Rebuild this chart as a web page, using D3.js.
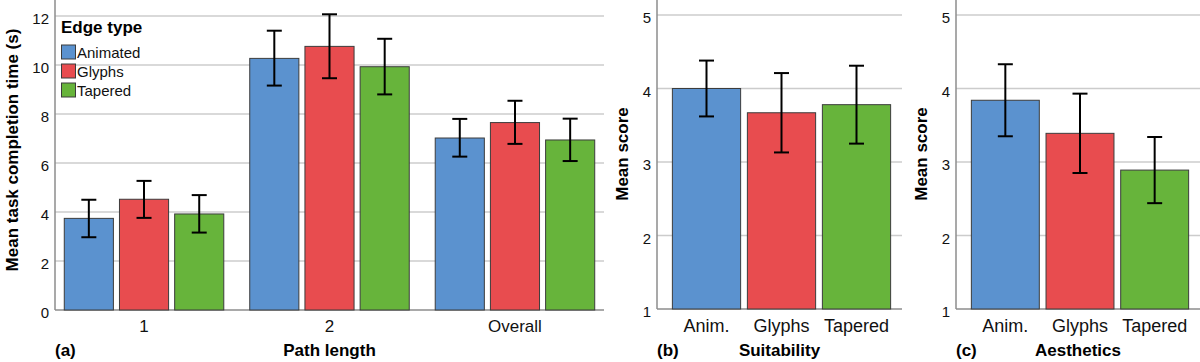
<!DOCTYPE html>
<html>
<head>
<meta charset="utf-8">
<script src="https://cdn.jsdelivr.net/npm/d3@7"></script>
<style>
  body { margin: 0; background: #fff; }
  svg { display: block; font-family: "Liberation Sans", Arial, sans-serif; }
</style>
</head>
<body>
<svg id="chart" width="1200" height="362"></svg>
<script>
// edge types (series) and colours
var edgeTypes = ["Animated", "Glyphs", "Tapered"];
var colors = ["#5b92cf", "#e84c4f", "#67b43b"];

// (a) task completion time by path length
var pathGroups = ["1", "2", "Overall"];
var timeMeans = [[3.74, 4.52, 3.92], [10.27, 10.76, 9.93], [7.02, 7.65, 6.94]];
var timeLow = [[2.97, 3.76, 3.16], [9.16, 9.46, 8.80], [6.26, 6.78, 6.08]];
var timeHigh = [[4.50, 5.27, 4.69], [11.40, 12.07, 11.07], [7.80, 8.54, 7.81]];
var timeTicks = [0, 2, 4, 6, 8, 10, 12];

// (b) suitability, (c) aesthetics
var shortNames = ["Anim.", "Glyphs", "Tapered"];
var suitMeans = [4.00, 3.67, 3.78];
var suitLow = [3.62, 3.13, 3.25];
var suitHigh = [4.38, 4.21, 4.31];
var aesMeans = [3.84, 3.39, 2.89];
var aesLow = [3.35, 2.85, 2.44];
var aesHigh = [4.33, 3.93, 3.34];
var scoreTicks = [1, 2, 3, 4, 5];

var svg = d3.select("#chart");
var gridCol = "#cccccc", axisCol = "#8c8c8c", barStroke = "#3c3c3c";

function frame(x0, x1, y, ticks) {
  // gridlines, axis line and tick labels
  var g = svg.append("g");
  g.selectAll("line.grid").data(ticks.slice(1)).enter().append("line")
    .attr("x1", x0).attr("x2", x1)
    .attr("y1", function(d){ return y(d); }).attr("y2", function(d){ return y(d); })
    .style("stroke", gridCol).style("stroke-width", 1.5);
  g.append("line").attr("x1", x0).attr("x2", x1).attr("y1", y(ticks[0])).attr("y2", y(ticks[0]))
    .style("stroke", axisCol).style("stroke-width", 1.5);
  g.append("line").attr("x1", x0).attr("x2", x0).attr("y1", 0).attr("y2", y(ticks[0]))
    .style("stroke", axisCol).style("stroke-width", 1.5);
  g.selectAll("text").data(ticks).enter().append("text")
    .attr("x", x0 - 6).attr("y", function(d){ return y(d) + 8; })
    .attr("text-anchor", "end").style("font-size", "15px").style("fill", "#111")
    .text(function(d){ return d; });
}

function bars(xs, y, means, low, high, base) {
  var g = svg.append("g");
  means.forEach(function(m, i) {
    var x = xs(i), w = xs.bandwidth();
    g.append("rect").attr("x", x).attr("y", y(m)).attr("width", w).attr("height", y(base) - y(m))
      .style("fill", colors[i]).style("stroke", barStroke).style("stroke-width", 1);
  });
  means.forEach(function(m, i) {
    var cx = xs(i) + xs.bandwidth() / 2;
    g.append("line").attr("x1", cx).attr("x2", cx).attr("y1", y(high[i])).attr("y2", y(low[i]))
      .style("stroke", "#000").style("stroke-width", 2);
    [high[i], low[i]].forEach(function(v) {
      g.append("line").attr("x1", cx - 7.5).attr("x2", cx + 7.5).attr("y1", y(v)).attr("y2", y(v))
        .style("stroke", "#000").style("stroke-width", 2);
    });
  });
}

function titles(x0, x1, yTitle, yTitleX, yTitleY, xTitle, tag) {
  svg.append("text").attr("transform", "translate(" + yTitleX + "," + yTitleY + ") rotate(-90)")
    .attr("text-anchor", "middle").style("font-size", "17px").style("font-weight", "bold")
    .text(yTitle);
  svg.append("text").attr("x", (x0 + x1) / 2).attr("y", 356).attr("text-anchor", "middle")
    .style("font-size", "17px").style("font-weight", "bold").text(xTitle);
  svg.append("text").attr("x", x0).attr("y", 356).style("font-size", "17px")
    .style("font-weight", "bold").text(tag);
}

// ---- panel (a)
var yA = d3.scaleLinear().domain([0, 12]).range([310, 16]);
frame(55, 604, yA, timeTicks);
var xA = d3.scaleBand().domain(pathGroups).range([55, 604]).paddingInner(0.14).paddingOuter(0.05);
var xSub = d3.scaleBand().domain([0, 1, 2]).range([0, xA.bandwidth()]).paddingInner(0.11);
pathGroups.forEach(function(p, gi) {
  var sub = function(i){ return xA(p) + xSub(i); };
  sub.bandwidth = xSub.bandwidth;
  bars(sub, yA, timeMeans[gi], timeLow[gi], timeHigh[gi], 0);
  svg.append("text").attr("x", xA(p) + xA.bandwidth() / 2).attr("y", 332).attr("text-anchor", "middle")
    .style("font-size", "17px").style("fill", "#111").text(p);
});
titles(55, 604, "Mean task completion time (s)", 18, 150, "Path length", "(a)");

// legend
var leg = svg.append("g").attr("transform", "translate(61,0)");
leg.append("text").attr("x", 0).attr("y", 33).style("font-size", "17px").style("font-weight", "bold").text("Edge type");
edgeTypes.forEach(function(t, i) {
  leg.append("rect").attr("x", 0.5).attr("y", 45 + i * 19).attr("width", 14).attr("height", 14)
    .style("fill", colors[i]).style("stroke", barStroke).style("stroke-width", 1);
  leg.append("text").attr("x", 16).attr("y", 58 + i * 19).style("font-size", "15px").style("fill", "#111").text(t);
});

// ---- panels (b) and (c)
function scorePanel(x0, x1, means, low, high, xTitle, tag) {
  var y = d3.scaleLinear().domain([1, 5]).range([309, 15]);
  frame(x0, x1, y, scoreTicks);
  var xs = d3.scaleBand().domain([0, 1, 2]).range([x0 + 12, x1 - 8]).paddingInner(0.09).paddingOuter(0.045);
  bars(xs, y, means, low, high, 1);
  shortNames.forEach(function(n, i) {
    svg.append("text").attr("x", xs(i) + xs.bandwidth() / 2).attr("y", 332).attr("text-anchor", "middle")
      .style("font-size", "18px").style("fill", "#111").text(n);
  });
  titles(x0, x1, "Mean score", x0 - 29, 154, xTitle, tag);
}
scorePanel(657, 902, suitMeans, suitLow, suitHigh, "Suitability", "(b)");
scorePanel(956, 1200, aesMeans, aesLow, aesHigh, "Aesthetics", "(c)");
</script>
</body>
</html>
